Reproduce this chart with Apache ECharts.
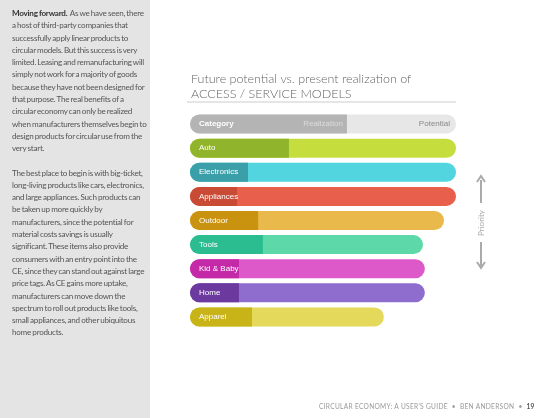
<!DOCTYPE html>
<html><head><meta charset="utf-8">
<script src="https://cdn.jsdelivr.net/npm/echarts@6/dist/echarts.min.js"></script>
<style>
body{margin:0;background:#fff;font-family:Lato,"Open Sans",sans-serif;}
#side{position:absolute;left:0;top:0;width:150px;height:418px;background:#e4e4e4;}
#side p{margin:0 0 12px 0;}
#txt{position:absolute;left:12px;top:7px;width:136px;font-size:8.1px;line-height:12.3px;color:#555;letter-spacing:-0.25px;word-spacing:-0.5px;}
#txt p{margin:0 0 12px 0;}
#chart{position:absolute;left:0;top:0;width:540px;height:418px;}
#foot{position:absolute;left:319px;top:402px;font-size:6.6px;color:#999;letter-spacing:0.3px;white-space:nowrap;}
#foot b{color:#555;}
</style></head><body>
<div id="side"></div>
<div id="chart"></div>
<div id="txt"><p><b style="color:#333">Moving forward.</b>&nbsp; As we have seen, there a host of third-party companies that successfully apply linear products to circular models. But this success is very limited. Leasing and remanufacturing will simply not work for a majority of goods because they have not been designed for that purpose. The real benefits of a circular economy can only be realized when manufacturers themselves begin to design products for circular use from the very start.</p><p>The best place to begin is with big-ticket, long-living products like cars, electronics, and large appliances. Such products can be taken up more quickly by manufacturers, since the potential for material costs savings is usually significant. These items also provide consumers with an entry point into the CE, since they can stand out against large price tags. As CE gains more uptake, manufacturers can move down the spectrum to roll out products like tools, small appliances, and other ubiquitous home products.</p></div>
<div id="foot">CIRCULAR ECONOMY: A USER'S GUIDE &nbsp;•&nbsp; BEN ANDERSON &nbsp;•&nbsp; <b>19</b></div>
<script>
var categories = ['Category', 'Auto', 'Electronics', 'Appliances', 'Outdoor', 'Tools', 'Kid & Baby', 'Home', 'Apparel'];
var potential = [100, 100, 100, 100, 95.5, 87.6, 88.3, 88.3, 72.9];
var realization = [59, 37.2, 21.8, 17.7, 25.6, 27.4, 18.4, 18.4, 23.3];
var darkColors = ['#b4b4b4', '#90b52c', '#3b9fa9', '#c94a35', '#c9930f', '#2bbd8f', '#c42aa8', '#6c3a9e', '#c8b418'];
var lightColors = ['#e7e7e7', '#c6de3d', '#53d5df', '#e8604b', '#e9b94b', '#5cd8a9', '#dd59c9', '#8f6dce', '#e4d95b'];

var chart = echarts.init(document.getElementById('chart'));
chart.setOption({
  animation: false,
  title: {
    text: 'Future potential vs. present realization of\nACCESS / SERVICE MODELS',
    left: 186, top: 66,
    textStyle: {fontFamily: 'Lato', fontWeight: 300, fontSize: 12.5, lineHeight: 15, color: '#666'}
  },
  grid: {left: 190, width: 266, top: 112, height: 217},
  xAxis: {type: 'value', min: 0, max: 100, show: false},
  yAxis: {type: 'category', data: categories, inverse: true, show: false},
  series: [{
    type: 'bar', barWidth: 19, barGap: '-100%',
    data: potential.map(function (v, i) {
      return {value: v, itemStyle: {color: lightColors[i], borderRadius: 9.5},
        label: {show: i === 0, position: 'insideRight', formatter: 'Potential', color: '#888', fontSize: 8, distance: 6}};
    })
  }, {
    type: 'bar', barWidth: 19,
    data: realization.map(function (v, i) {
      var d = {value: v, itemStyle: {color: darkColors[i], borderRadius: [9.5, 0, 0, 9.5]}};
      if (i === 0) d.label = {show: true, position: 'insideRight', formatter: 'Realization', color: '#ddd', fontSize: 8, distance: 4};
      return d;
    }),
    label: {show: true, position: 'insideLeft', distance: 9, color: '#fff', fontSize: 8,
      formatter: function (p) { return p.name; }}
  }, {
    type: 'bar', barWidth: 19, barGap: '-100%', silent: true,
    itemStyle: {color: 'transparent'},
    data: realization.map(function (v, i) { return i === 0 ? v : '-'; }),
    label: {show: true, position: 'insideLeft', distance: 9, color: '#fff', fontSize: 8, fontWeight: 'bold',
      formatter: 'Category'}
  }],
  graphic: [
    {type: 'line', shape: {x1: 187, y1: 102, x2: 456, y2: 102}, style: {stroke: '#ccc', lineWidth: 1}},
    {type: 'line', shape: {x1: 481, y1: 180, x2: 481, y2: 203}, style: {stroke: '#aaa', lineWidth: 2}},
    {type: 'polyline', shape: {points: [[477, 182], [481, 176], [485, 182]]}, style: {stroke: '#aaa', lineWidth: 2, fill: null}},
    {type: 'line', shape: {x1: 481, y1: 242, x2: 481, y2: 266}, style: {stroke: '#aaa', lineWidth: 2}},
    {type: 'polyline', shape: {points: [[477, 262], [481, 268], [485, 262]]}, style: {stroke: '#aaa', lineWidth: 2, fill: null}},
    {type: 'text', x: 481, y: 223, rotation: Math.PI / 2,
      style: {text: 'Priority', fill: '#aaa', fontSize: 8, align: 'center', verticalAlign: 'middle', fontFamily: 'Lato'}}
  ]
});
</script>
</body></html>
